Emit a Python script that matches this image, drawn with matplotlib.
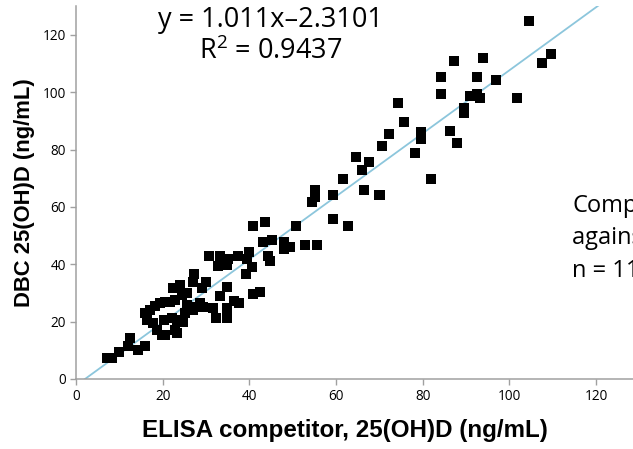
import matplotlib
matplotlib.use('Agg')
import matplotlib.pyplot as plt
import numpy as np

# ELISA competitor (x) vs DBC (y), ng/mL
elisa = [104.6, 87.3, 93.8, 109.5, 107.4, 84.1, 92.6, 97.0, 84.1, 90.9,
         92.6, 93.3, 101.8, 74.2, 89.4, 89.4, 75.7, 79.7, 79.7, 86.2,
         87.8, 78.1, 81.8, 72.1, 70.6, 70.2,
         64.5, 67.7, 66.1, 61.7, 55.2, 55.2, 54.5, 59.4, 66.5, 69.8,
         59.4, 62.8, 50.8, 52.9, 55.7, 49.4,
         40.9, 43.7, 43.2, 45.3, 48.0, 49.2, 48.0, 44.4, 44.8, 30.8,
         33.2, 34.0, 35.0, 32.8, 34.8, 37.3, 40.0, 39.4, 40.5, 39.2,
         27.3, 27.1, 29.9, 29.0, 34.8, 33.2, 40.9, 42.5, 28.5, 29.2,
         36.5, 37.7, 26.9, 31.7, 34.9, 32.3, 34.9,
         7.1, 8.4, 9.9, 12.1, 12.5, 14.2, 15.9, 24.0, 22.5, 25.5,
         24.4, 22.8, 21.7, 20.5, 19.4, 18.2, 17.1, 15.9, 16.3, 25.5,
         27.5, 25.2, 22.1, 23.2, 24.8, 20.2, 17.8, 18.6, 19.8, 20.5,
         22.8, 23.2]
dbc = [124.9, 111.0, 111.9, 113.4, 110.1, 105.2, 105.2, 104.2, 99.3, 98.6,
       99.5, 97.9, 97.9, 96.2, 94.4, 92.7, 89.5, 86.3, 83.7, 86.4,
       82.2, 78.7, 69.6, 85.3, 81.2, 64.2,
       77.3, 75.7, 73.0, 69.6, 65.8, 63.6, 61.7, 64.1, 65.8, 64.1,
       55.7, 53.3, 53.3, 46.6, 46.6, 45.9,
       53.4, 54.9, 47.7, 48.5, 47.9, 46.1, 45.2, 43.0, 41.0, 42.9,
       42.9, 40.9, 41.9, 39.5, 39.8, 42.9, 44.2, 41.8, 39.2, 36.5,
       36.5, 33.7, 33.9, 31.6, 32.0, 28.8, 29.6, 30.4, 26.6, 25.0,
       27.2, 26.4, 24.1, 24.7, 24.7, 21.2, 21.2,
       7.2, 7.2, 9.4, 11.6, 14.2, 10.1, 11.5, 32.8, 31.6, 29.9,
       29.3, 27.6, 27.0, 27.0, 26.4, 25.5, 24.1, 22.9, 20.6, 25.8,
       25.2, 22.9, 21.2, 20.6, 20.0, 20.6, 19.4, 17.1, 15.3, 15.3,
       17.1, 15.9]

# trendline as drawn on the original chart
fit_slope = 1.1
fit_intercept = -2.31
eq_text = 'y = 1.011x\u20132.3101'
r2_text = 'R$^2$ = 0.9437'

ticks = [0, 20, 40, 60, 80, 100, 120]

plt.rcParams['font.family'] = ['Open Sans', 'DejaVu Sans']
plt.rcParams['mathtext.fontset'] = 'custom'
plt.rcParams['mathtext.rm'] = 'Open Sans'

fig = plt.figure(figsize=(6.33, 4.49), dpi=100)
ax = fig.add_axes([0.12, 0.156, 0.88, 0.83])

xs = np.array([0, 130])
ax.plot(xs, fit_slope * xs + fit_intercept, color='#8cc6dc', lw=1.3, zorder=1)
ax.scatter(elisa, dbc, marker='s', s=44, color='black', linewidths=0, zorder=2)

ax.set_xlim(0, 128.5)
ax.set_ylim(0, 130)
ax.set_xticks(ticks)
ax.set_yticks(ticks)
ax.tick_params(labelsize=9.8, length=4, width=1, color='#a0a0a0', pad=3)
for s in ['top', 'right']:
    ax.spines[s].set_visible(False)
for s in ['left', 'bottom']:
    ax.spines[s].set_color('#a0a0a0')
    ax.spines[s].set_linewidth(1.1)

ax.set_xlabel('ELISA competitor, 25(OH)D (ng/mL)', family='Liberation Sans',
              fontweight='bold', fontsize=17.4)
ax.xaxis.set_label_coords(0.483, -0.108)
ax.set_ylabel('DBC 25(OH)D (ng/mL)', family='Liberation Sans',
              fontweight='bold', fontsize=15.8, labelpad=6)

fig.text(0.428, 0.955, eq_text, ha='center', va='center', fontsize=19.5)
fig.text(0.428, 0.884, r2_text, ha='center', va='center', fontsize=19.5)
fig.text(0.904, 0.469, 'Comparison\nagainst ELISA\nn = 112', ha='left',
         va='center', fontsize=17, linespacing=1.45)

fig.savefig('out.png', dpi=100)
